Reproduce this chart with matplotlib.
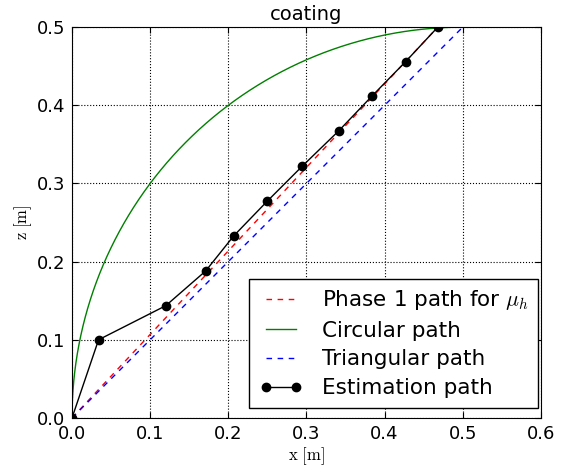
import matplotlib
matplotlib.use('Agg')
import matplotlib.pyplot as plt
import numpy as np

plt.rcParams['mathtext.fontset'] = 'cm'

# estimation path points
est_x = [0.0, 0.034, 0.120, 0.171, 0.207, 0.250, 0.2945, 0.341, 0.384, 0.427, 0.468]
est_z = [0.0, 0.100, 0.1436, 0.188, 0.233, 0.2775, 0.322, 0.367, 0.412, 0.456, 0.500]

phase1_x = [0.0, 0.468]
phase1_z = [0.0, 0.500]

tri_x = [0.0, 0.5]
tri_z = [0.0, 0.5]

circ_center = (0.5, 0.0)
circ_radius = 0.5

fig = plt.figure(figsize=(5.67, 4.68), dpi=100)
ax = fig.add_axes([0.127, 0.107, 0.827, 0.835])

th = np.linspace(np.pi, np.pi / 2, 200)
cx = circ_center[0] + circ_radius * np.cos(th)
cz = circ_center[1] + circ_radius * np.sin(th)

ax.plot(phase1_x, phase1_z, 'r--', lw=1, dashes=(4, 4), label=r'Phase 1 path for $\mu_h$')
ax.plot(cx, cz, color='green', lw=1, label='Circular path')
ax.plot(tri_x, tri_z, 'b--', lw=1, dashes=(4, 4), label='Triangular path')
ax.plot(est_x, est_z, 'k-', marker='o', ms=6, lw=1, label='Estimation path')

ax.set_xlim(0, 0.6)
ax.set_ylim(0, 0.5)
ax.set_xticks([0.0, 0.1, 0.2, 0.3, 0.4, 0.5, 0.6])
ax.set_yticks([0.0, 0.1, 0.2, 0.3, 0.4, 0.5])
ax.tick_params(direction='in', top=True, right=True, labelsize=13, length=4, pad=5)
ax.grid(True, color='black', linestyle=':', lw=0.8)
ax.set_title('coating', fontsize=14, pad=5)
ax.set_xlabel(r'$\mathrm{x\ [m]}$', fontsize=12, labelpad=2)
ax.set_ylabel(r'$\mathrm{z\ [m]}$', fontsize=12, labelpad=2)

leg = ax.legend(loc='lower right', bbox_to_anchor=(0.994, 0.026), fontsize=15.5,
                numpoints=2, fancybox=False, framealpha=1, edgecolor='black',
                handlelength=2.0, handletextpad=0.9, borderaxespad=0,
                labelspacing=0.4, borderpad=0.45)
leg.get_frame().set_linewidth(1)

fig.savefig('out.png', dpi=100)
